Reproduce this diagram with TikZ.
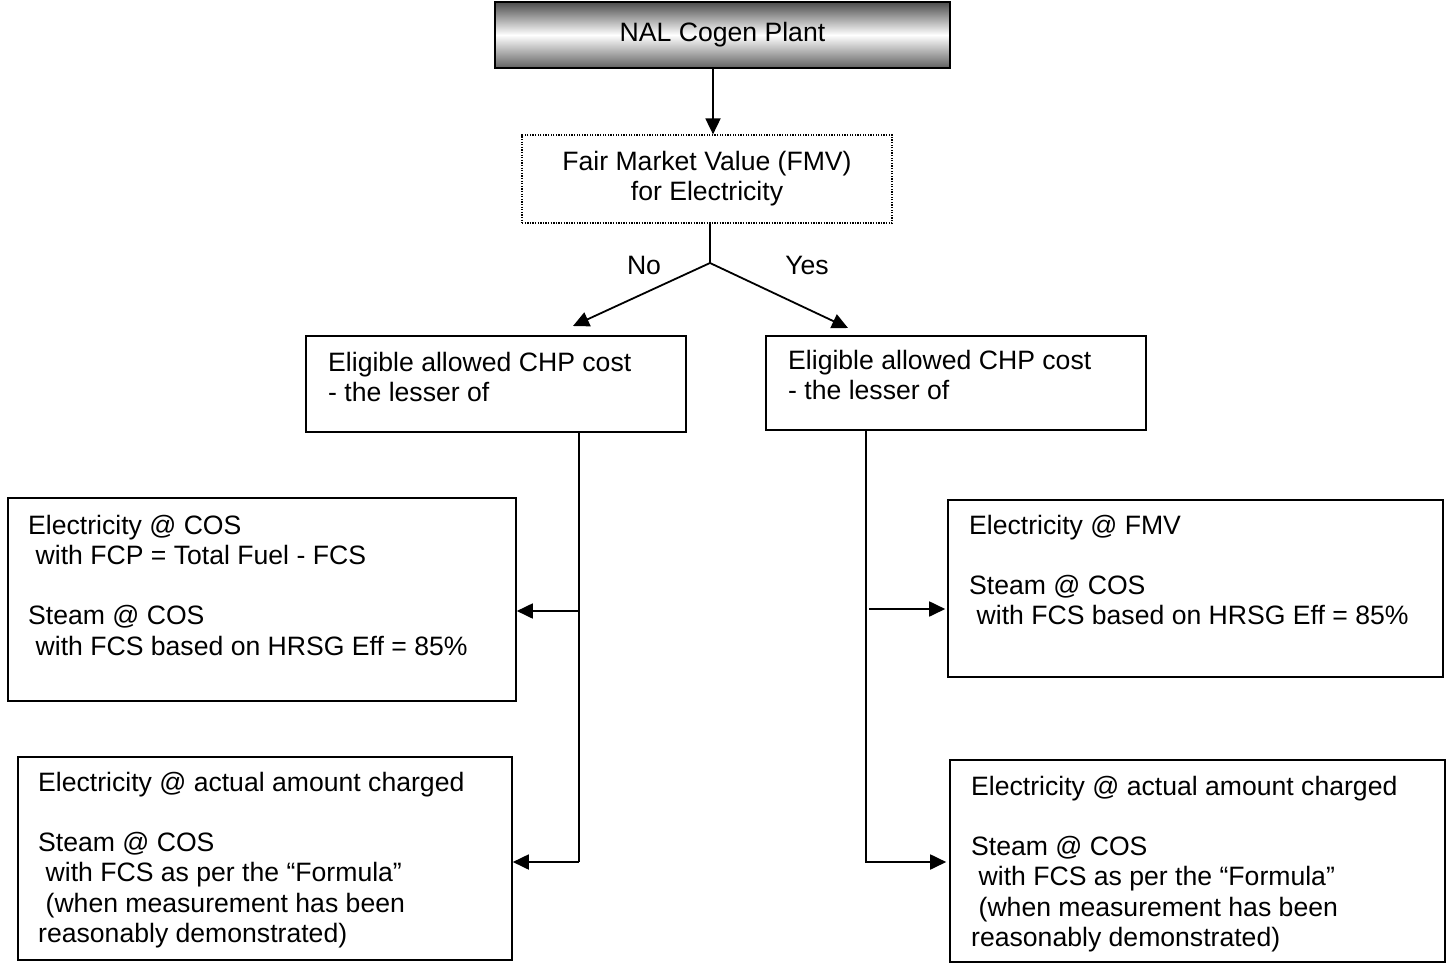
\documentclass[tikz,border=0pt]{standalone}
\usepackage{fontspec}
\setmainfont{Liberation Sans}
\usetikzlibrary{arrows.meta}
\begin{document}
\begin{tikzpicture}[x=1pt,y=-1pt,
  txt/.style={font=\fontsize{26.6}{30.2}\selectfont},
  box/.style={draw,line width=1.6pt,inner sep=0pt},
  para/.style={txt,align=left,anchor=north west,inner sep=0pt},
  conn/.style={line width=1.8pt},
  arr/.style={conn,-{Triangle[length=16pt,width=15pt]}}]
\useasboundingbox (0,0) rectangle (1451,966);
% boxes
\node[box,minimum width=455pt,minimum height=66pt,top color=black!70,bottom color=black!62,middle color=white,txt] (top) at (722.5,35) {NAL Cogen Plant};
\node[draw,line width=1.2pt,dash pattern=on 1.3pt off 1.3pt,inner sep=0pt,minimum width=370pt,minimum height=88pt,txt,align=center] (fmv) at (707,179) {Fair Market Value (FMV)\\for Electricity};
\node[box,minimum width=380pt,minimum height=96pt] (chpL) at (496,384) {};
\node[box,minimum width=380pt,minimum height=94pt] (chpR) at (956,383) {};
\node[box,minimum width=508pt,minimum height=203pt] (boxLA) at (262,599.5) {};
\node[box,minimum width=494pt,minimum height=203pt] (boxLB) at (265,858.5) {};
\node[box,minimum width=495pt,minimum height=177pt] (boxRA) at (1195.5,588.5) {};
\node[box,minimum width=495pt,minimum height=202pt] (boxRB) at (1197.5,861) {};
% texts
\node[para] (tL) at (328,352) {Eligible allowed CHP cost\\- the lesser of};
\node[para] (tR) at (788,350) {Eligible allowed CHP cost\\- the lesser of};
\node[para] (tLA) at (28,515) {Electricity @ COS\\\hspace*{.28em}with FCP = Total Fuel - FCS\\[30pt]Steam @ COS\\\hspace*{.28em}with FCS based on HRSG Eff = 85\%};
\node[para] (tLB) at (38,772) {Electricity @ actual amount charged\\[30pt]Steam @ COS\\\hspace*{.28em}with FCS as per the “Formula”\\\hspace*{.28em}(when measurement has been\\reasonably demonstrated)};
\node[para] (tRA) at (969,515) {Electricity @ FMV\\[30pt]Steam @ COS\\\hspace*{.28em}with FCS based on HRSG Eff = 85\%};
\node[para] (tRB) at (971,776) {Electricity @ actual amount charged\\[30pt]Steam @ COS\\\hspace*{.28em}with FCS as per the “Formula”\\\hspace*{.28em}(when measurement has been\\reasonably demonstrated)};
\node[txt] (no) at (644,265) {No};
\node[txt] (yes) at (807,265) {Yes};
% coordinates
\coordinate (j) at (710,263);
\coordinate (aL) at (573,326);
\coordinate (aR) at (848,328);
\coordinate (vL1) at (579,432);
\coordinate (vL2) at (579,862);
\coordinate (bL1) at (579,611);
\coordinate (vR1) at (866,430);
\coordinate (vR2) at (866,862);
\coordinate (bR1) at (869,609);
% connectors
\draw[arr] ([xshift=-9.5pt]top.south) -- ([xshift=6pt]fmv.north);
\draw[conn] ([xshift=3pt]fmv.south) -- (j);
\draw[arr] (j) -- (aL);
\draw[arr] (j) -- (aR);
\draw[conn] (vL1) -- (vL2);
\draw[arr] (bL1) -- (bL1 -| boxLA.east);
\draw[arr] (vL2) -- (vL2 -| boxLB.east);
\draw[arr] (vR1) -- (vR2) -- ([xshift=-3pt]vR2 -| boxRB.west);
\draw[arr] (bR1) -- ([xshift=-2pt]bR1 -| boxRA.west);
\end{tikzpicture}
\end{document}
